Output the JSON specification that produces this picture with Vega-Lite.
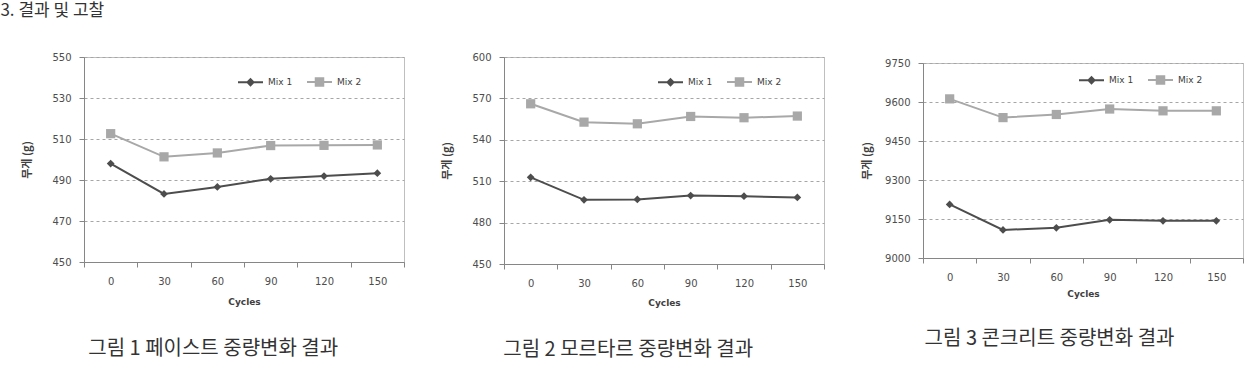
{
  "$schema": "https://vega.github.io/schema/vega-lite/v6.json",
  "padding": {"top": 1, "left": 0, "right": 0, "bottom": 0},
  "background": "white",
  "title": {"text": "3. 결과 및 고찰", "anchor": "start", "font": "Noto Sans CJK KR", "fontSize": 17, "fontWeight": "normal", "color": "#333333", "offset": 32, "dx": -21, "orient": "top"},
  "datasets": {
    "paste": [
      {"cycle": 0, "mix": "Mix 1", "weight": 498.0},
      {"cycle": 30, "mix": "Mix 1", "weight": 483.2},
      {"cycle": 60, "mix": "Mix 1", "weight": 486.6},
      {"cycle": 90, "mix": "Mix 1", "weight": 490.6},
      {"cycle": 120, "mix": "Mix 1", "weight": 491.9},
      {"cycle": 150, "mix": "Mix 1", "weight": 493.3},
      {"cycle": 0, "mix": "Mix 2", "weight": 512.6},
      {"cycle": 30, "mix": "Mix 2", "weight": 501.3},
      {"cycle": 60, "mix": "Mix 2", "weight": 503.2},
      {"cycle": 90, "mix": "Mix 2", "weight": 506.8},
      {"cycle": 120, "mix": "Mix 2", "weight": 506.9},
      {"cycle": 150, "mix": "Mix 2", "weight": 507.1}
    ],
    "mortar": [
      {"cycle": 0, "mix": "Mix 1", "weight": 512.8},
      {"cycle": 30, "mix": "Mix 1", "weight": 496.5},
      {"cycle": 60, "mix": "Mix 1", "weight": 496.8},
      {"cycle": 90, "mix": "Mix 1", "weight": 499.6},
      {"cycle": 120, "mix": "Mix 1", "weight": 499.1},
      {"cycle": 150, "mix": "Mix 1", "weight": 498.2},
      {"cycle": 0, "mix": "Mix 2", "weight": 566.1},
      {"cycle": 30, "mix": "Mix 2", "weight": 552.8},
      {"cycle": 60, "mix": "Mix 2", "weight": 551.6},
      {"cycle": 90, "mix": "Mix 2", "weight": 556.9},
      {"cycle": 120, "mix": "Mix 2", "weight": 556.0},
      {"cycle": 150, "mix": "Mix 2", "weight": 557.2}
    ],
    "concrete": [
      {"cycle": 0, "mix": "Mix 1", "weight": 9206},
      {"cycle": 30, "mix": "Mix 1", "weight": 9108},
      {"cycle": 60, "mix": "Mix 1", "weight": 9116},
      {"cycle": 90, "mix": "Mix 1", "weight": 9147},
      {"cycle": 120, "mix": "Mix 1", "weight": 9143},
      {"cycle": 150, "mix": "Mix 1", "weight": 9143},
      {"cycle": 0, "mix": "Mix 2", "weight": 9612},
      {"cycle": 30, "mix": "Mix 2", "weight": 9540},
      {"cycle": 60, "mix": "Mix 2", "weight": 9552},
      {"cycle": 90, "mix": "Mix 2", "weight": 9573},
      {"cycle": 120, "mix": "Mix 2", "weight": 9566},
      {"cycle": 150, "mix": "Mix 2", "weight": 9566}
    ]
  },
  "spacing": 36,
  "resolve": {
    "scale": {"color": "independent"},
    "legend": {"color": "independent"}
  },
  "hconcat": [
    {
      "data": {"name": "paste"},
      "width": 320,
      "height": 205,
      "title": {"text": "그림 1 페이스트 중량변화 결과", "orient": "bottom", "anchor": "middle", "frame": "bounds", "offset": 33},
      "encoding": {
        "x": {"field": "cycle", "type": "ordinal", "bandPosition": 0.5, "scale": {"type": "band", "paddingInner": 0, "paddingOuter": 0}, "axis": {"title": "Cycles", "tickBand": "extent", "labelAngle": 0, "titlePadding": 11}},
        "y": {"field": "weight", "type": "quantitative", "scale": {"domain": [450, 550], "nice": false, "zero": false}, "axis": {"title": "무게 (g)", "format": "d", "values": [450, 470, 490, 510, 530, 550]}},
        "color": {"field": "mix", "type": "nominal", "scale": {"domain": ["Mix 1", "Mix 2"], "range": ["#4d4d4d", "#a8a8a8"]},
          "legend": {"orient": "none", "legendX": 153, "legendY": 11, "direction": "horizontal", "title": null, "symbolSize": 625, "labelOffset": 4, "columnPadding": 10,
            "encode": {"symbols": {"update": {
              "shape": {"signal": "datum.value === 'Mix 1' ? 'M-1,0H1M-0.24,0L0,-0.24L0.24,0L0,0.24Z' : 'M-1,0H1M-0.3,-0.3H0.3V0.3H-0.3Z'"},
              "fill": {"signal": "datum.value === 'Mix 1' ? '#4d4d4d' : '#a8a8a8'"},
              "stroke": {"signal": "datum.value === 'Mix 1' ? '#4d4d4d' : '#a8a8a8'"},
              "strokeWidth": {"value": 2},
              "opacity": {"value": 1}}}}}}
      },
      "layer": [
        {"mark": {"type": "line", "strokeWidth": 2}},
        {"mark": {"type": "point", "filled": true, "opacity": 1},
         "encoding": {
           "shape": {"field": "mix", "type": "nominal", "scale": {"domain": ["Mix 1", "Mix 2"], "range": ["diamond", "square"]}, "legend": null},
           "size": {"field": "mix", "type": "nominal", "scale": {"domain": ["Mix 1", "Mix 2"], "range": [60, 85]}, "legend": null}}}
      ]
    },
    {
      "data": {"name": "mortar"},
      "width": 320,
      "height": 207,
      "title": {"text": "그림 2 모르타르 중량변화 결과", "orient": "bottom", "anchor": "middle", "frame": "bounds", "offset": 33, "dx": -5},
      "encoding": {
        "x": {"field": "cycle", "type": "ordinal", "bandPosition": 0.5, "scale": {"type": "band", "paddingInner": 0, "paddingOuter": 0}, "axis": {"title": "Cycles", "tickBand": "extent", "labelAngle": 0, "titlePadding": 10}},
        "y": {"field": "weight", "type": "quantitative", "scale": {"domain": [450, 600], "nice": false, "zero": false}, "axis": {"title": "무게 (g)", "format": "d", "values": [450, 480, 510, 540, 570, 600]}},
        "color": {"field": "mix", "type": "nominal", "scale": {"domain": ["Mix 1", "Mix 2"], "range": ["#4d4d4d", "#a8a8a8"]},
          "legend": {"orient": "none", "legendX": 153, "legendY": 11, "direction": "horizontal", "title": null, "symbolSize": 625, "labelOffset": 4, "columnPadding": 10,
            "encode": {"symbols": {"update": {
              "shape": {"signal": "datum.value === 'Mix 1' ? 'M-1,0H1M-0.24,0L0,-0.24L0.24,0L0,0.24Z' : 'M-1,0H1M-0.3,-0.3H0.3V0.3H-0.3Z'"},
              "fill": {"signal": "datum.value === 'Mix 1' ? '#4d4d4d' : '#a8a8a8'"},
              "stroke": {"signal": "datum.value === 'Mix 1' ? '#4d4d4d' : '#a8a8a8'"},
              "strokeWidth": {"value": 2},
              "opacity": {"value": 1}}}}}}
      },
      "layer": [
        {"mark": {"type": "line", "strokeWidth": 2}},
        {"mark": {"type": "point", "filled": true, "opacity": 1},
         "encoding": {
           "shape": {"field": "mix", "type": "nominal", "scale": {"domain": ["Mix 1", "Mix 2"], "range": ["diamond", "square"]}, "legend": null},
           "size": {"field": "mix", "type": "nominal", "scale": {"domain": ["Mix 1", "Mix 2"], "range": [60, 85]}, "legend": null}}}
      ]
    },
    {
      "spacing": -1,
      "vconcat": [
        {
          "width": 320,
          "height": 1,
          "data": {"values": []},
          "mark": {"type": "rule", "opacity": 0},
          "encoding": {},
          "view": {"stroke": null}
        },
        {
          "data": {"name": "concrete"},
          "width": 320,
          "height": 195,
          "title": {"text": "그림 3 콘크리트 중량변화 결과", "orient": "bottom", "anchor": "middle", "frame": "bounds", "offset": 31, "dx": -3},
          "encoding": {
            "x": {"field": "cycle", "type": "ordinal", "bandPosition": 0.5, "scale": {"type": "band", "paddingInner": 0, "paddingOuter": 0}, "axis": {"title": "Cycles", "tickBand": "extent", "labelAngle": 0, "titlePadding": 7}},
            "y": {"field": "weight", "type": "quantitative", "scale": {"domain": [9000, 9750], "nice": false, "zero": false}, "axis": {"title": "무게 (g)", "format": "d", "values": [9000, 9150, 9300, 9450, 9600, 9750], "titlePadding": 12}},
            "color": {"field": "mix", "type": "nominal", "scale": {"domain": ["Mix 1", "Mix 2"], "range": ["#4d4d4d", "#a8a8a8"]},
              "legend": {"orient": "none", "legendX": 155, "legendY": 9, "direction": "horizontal", "title": null, "symbolSize": 625, "labelOffset": 4, "columnPadding": 10,
                "encode": {"symbols": {"update": {
                  "shape": {"signal": "datum.value === 'Mix 1' ? 'M-1,0H1M-0.24,0L0,-0.24L0.24,0L0,0.24Z' : 'M-1,0H1M-0.3,-0.3H0.3V0.3H-0.3Z'"},
                  "fill": {"signal": "datum.value === 'Mix 1' ? '#4d4d4d' : '#a8a8a8'"},
                  "stroke": {"signal": "datum.value === 'Mix 1' ? '#4d4d4d' : '#a8a8a8'"},
                  "strokeWidth": {"value": 2},
                  "opacity": {"value": 1}}}}}}
          },
          "layer": [
            {"mark": {"type": "line", "strokeWidth": 2}},
            {"mark": {"type": "point", "filled": true, "opacity": 1},
             "encoding": {
               "shape": {"field": "mix", "type": "nominal", "scale": {"domain": ["Mix 1", "Mix 2"], "range": ["diamond", "square"]}, "legend": null},
               "size": {"field": "mix", "type": "nominal", "scale": {"domain": ["Mix 1", "Mix 2"], "range": [60, 85]}, "legend": null}}}
          ]
        }
      ]
    }
  ],
  "config": {
    "view": {"stroke": "#bfbfbf", "strokeWidth": 1},
    "axis": {"labelFont": "DejaVu Sans", "labelFontSize": 10, "labelColor": "#4d4d4d", "domainColor": "#868686", "tickColor": "#868686", "tickSize": 5, "titleFont": "DejaVu Sans", "titleFontSize": 9, "titleFontWeight": "bold", "titleColor": "#404040"},
    "axisY": {"grid": true, "gridDash": [3, 3], "gridColor": "#a6a6a6", "labelPadding": 8, "titlePadding": 19, "titleFont": "Noto Sans CJK KR", "titleFontSize": 11},
    "axisX": {"grid": false, "labelPadding": 9},
    "legend": {"labelFont": "DejaVu Sans", "labelFontSize": 9, "labelColor": "#404040"},
    "title": {"font": "Noto Sans CJK KR", "fontSize": 20, "fontWeight": "normal", "color": "#333333"}
  }
}
